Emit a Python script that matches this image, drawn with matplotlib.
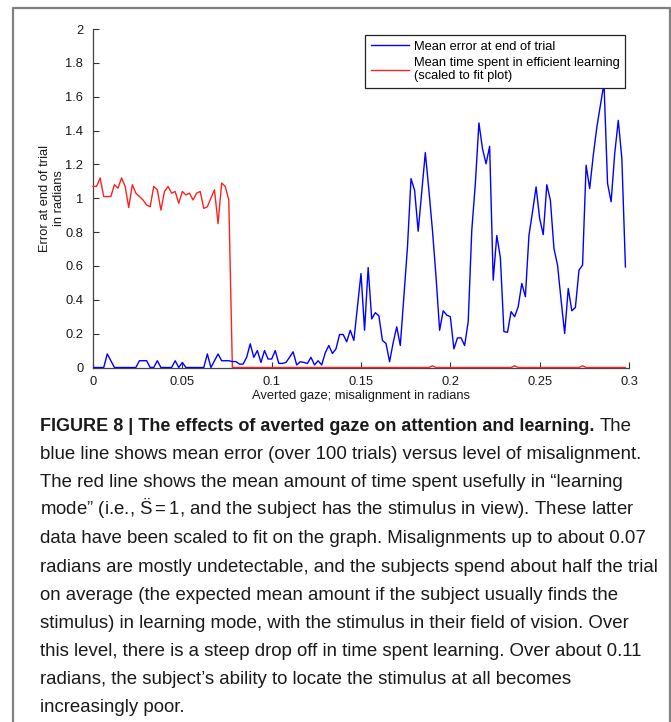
import numpy as np
import matplotlib
matplotlib.use('Agg')
import matplotlib.pyplot as plt
from matplotlib.lines import Line2D

plt.rcParams['font.family'] = ['Liberation Sans', 'DejaVu Sans']
plt.rcParams['mathtext.fontset'] = 'custom'
plt.rcParams['mathtext.rm'] = 'Liberation Sans'
plt.rcParams['mathtext.it'] = 'Liberation Sans'

# ---------------- data ----------------
x_step = 0.002
n_points = 150
misalignment = np.arange(n_points) * x_step

mean_error = [
    0, 0, 0, 0, 0.08, 0.04, 0, 0, 0, 0,
    0, 0, 0, 0.04, 0.04, 0.04, 0, 0, 0.04, 0,
    0, 0, 0, 0.04, 0, 0.03, 0, 0, 0, 0,
    0, 0, 0.08, 0, 0.04, 0.08, 0.04, 0.04, 0.04, 0.035,
    0.035, 0.02, 0.02, 0.06, 0.14, 0.06, 0.10, 0.03, 0.10, 0.05,
    0.05, 0.10, 0.024, 0.024, 0.03, 0.06, 0.093, 0.015, 0.034, 0.03,
    0.024, 0.06, 0.015, 0.04, 0.015, 0.087, 0.13, 0.083, 0.11, 0.195,
    0.195, 0.152, 0.22, 0.16, 0.36, 0.555, 0.22, 0.59, 0.287, 0.324,
    0.305, 0.16, 0.142, 0.034, 0.146, 0.24, 0.13, 0.418, 0.71, 1.116,
    1.047, 0.805, 1.037, 1.27, 1.047, 0.81, 0.535, 0.22, 0.335, 0.31,
    0.30, 0.11, 0.175, 0.175, 0.13, 0.27, 0.81, 1.087, 1.445, 1.293,
    1.204, 1.307, 0.516, 0.78, 0.65, 0.212, 0.208, 0.33, 0.30, 0.36,
    0.497, 0.418, 0.78, 0.92, 1.067, 0.88, 0.785, 1.08, 0.988, 0.703,
    0.605, 0.398, 0.201, 0.467, 0.335, 0.355, 0.575, 0.605, 1.195, 1.057,
    1.254, 1.42, 1.55, 1.68, 1.087, 0.979, 1.264, 1.46, 1.235, 0.594,
]

learning_time = [
    1.07, 1.07, 1.12, 1.01, 1.01, 1.01, 1.08, 1.06, 1.12, 1.07,
    0.945, 1.08, 1.03, 1.01, 0.99, 0.96, 0.95, 1.07, 1.05, 0.93,
    1.04, 1.07, 1.03, 1.04, 0.97, 1.04, 1.02, 1.03, 0.99, 1.03,
    1.04, 0.94, 0.95, 1.0, 1.05, 0.85, 1.09, 1.07, 0.99, 0,
    0, 0, 0, 0, 0, 0, 0, 0, 0, 0,
    0, 0, 0, 0, 0, 0, 0, 0, 0, 0,
    0, 0, 0, 0, 0, 0, 0, 0, 0, 0,
    0, 0, 0, 0, 0, 0, 0, 0, 0, 0,
    0, 0, 0, 0, 0, 0, 0, 0, 0, 0,
    0, 0, 0, 0, 0, 0.01, 0, 0, 0, 0,
    0, 0, 0, 0, 0, 0, 0, 0, 0, 0,
    0, 0, 0, 0, 0, 0, 0, 0, 0.01, 0,
    0, 0, 0, 0, 0, 0, 0, 0, 0, 0,
    0, 0, 0, 0, 0, 0, 0, 0.01, 0, 0,
    0, 0, 0, 0, 0, 0, 0, 0, 0, 0,
]

x_ticks = [0, 0.05, 0.1, 0.15, 0.2, 0.25, 0.3]
x_tick_labels = ['0', '0.05', '0.1', '0.15', '0.2', '0.25', '0.3']
y_ticks = [0, 0.2, 0.4, 0.6, 0.8, 1.0, 1.2, 1.4, 1.6, 1.8, 2.0]
y_tick_labels = ['0', '0.2', '0.4', '0.6', '0.8', '1', '1.2', '1.4', '1.6', '1.8', '2']

legend_labels = ['Mean error at end of trial',
                 'Mean time spent in efficient learning\n(scaled to fit plot)']
x_label = 'Averted gaze; misalignment in radians'
y_label = 'Error at end of trial\nin radians'

caption_bold = 'FIGURE 8 | The effects of averted gaze on attention and learning.'
caption_first_rest = 'The'
caption_lines = [
    'blue line shows mean error (over 100 trials) versus level of misalignment.',
    'The red line shows the mean amount of time spent usefully in \u201clearning',
    'mode\u201d (i.e., $\\ddot{S} = 1$, and the subject has the stimulus in view). These latter',
    'data have been scaled to fit on the graph. Misalignments up to about 0.07',
    'radians are mostly undetectable, and the subjects spend about half the trial',
    'on average (the expected mean amount if the subject usually finds the',
    'stimulus) in learning mode, with the stimulus in their field of vision. Over',
    'this level, there is a steep drop off in time spent learning. Over about 0.11',
    'radians, the subject\u2019s ability to locate the stimulus at all becomes',
    'increasingly poor.',
]

# ---------------- figure ----------------
W, H = 671, 722
fig = plt.figure(figsize=(W / 100, H / 100), dpi=100)
fig.patch.set_facecolor('white')

ax = fig.add_axes([93 / W, 1 - 367.5 / H, 536 / W, 338.5 / H])

l1, = ax.plot(misalignment, mean_error, color='#0000ff', lw=1.0, zorder=3)
l2, = ax.plot(misalignment, learning_time, color='#ff2020', lw=1.0, zorder=2.8,
              clip_on=False)

tfs = 9.3
ax.set_xlim(0, 0.3)
ax.set_ylim(0, 2)
ax.set_xticks(x_ticks)
ax.set_xticklabels(x_tick_labels)
ax.set_yticks(y_ticks)
ax.set_yticklabels(y_tick_labels)
ax.tick_params(direction='in', length=4, width=0.8, labelsize=tfs,
               color='#333333', labelcolor='#1a1a1a')
ax.tick_params(axis='y', pad=7)
ax.tick_params(axis='x', pad=6.2)
for s in ['top', 'right']:
    ax.spines[s].set_visible(False)
for s in ['left', 'bottom']:
    ax.spines[s].set_color('#444444')
    ax.spines[s].set_linewidth(0.9)

ax.set_xlabel(x_label, fontsize=tfs, color='#1a1a1a', labelpad=1.2)
ax.set_ylabel(y_label, fontsize=tfs, color='#1a1a1a', labelpad=0)

leg = ax.legend([l1, l2], legend_labels, loc='upper right',
                bbox_to_anchor=(0.9925, 0.982), borderaxespad=0,
                fontsize=tfs, fancybox=False, framealpha=1,
                edgecolor='#222222', handlelength=2.95, handletextpad=0.4,
                borderpad=0.42, labelspacing=0.32)
leg.get_frame().set_linewidth(0.9)

# frame around figure + caption
fig.add_artist(Line2D([13 / W, 13 / W, 669.5 / W, 669.5 / W],
                      [0, 1 - 8 / H, 1 - 8 / H, 0],
                      transform=fig.transFigure, color='#808080', lw=1.6))

fs = 13.4
fs_bold = 13.0
x0 = 40 / W
base0 = 425 + 6
t = fig.text(x0, 1 - base0 / H, caption_bold, fontsize=fs_bold, weight='bold',
             va='baseline', ha='left', color='#1a1a1a')
fig.canvas.draw()
bb = t.get_window_extent(renderer=fig.canvas.get_renderer())
fig.text((bb.x1 + 5) / W, 1 - base0 / H, caption_first_rest, fontsize=fs,
         va='baseline', ha='left', color='#1a1a1a')
for k, line in enumerate(caption_lines, start=1):
    fig.text(x0, 1 - (base0 + 28.1 * k) / H, line, fontsize=fs,
             va='baseline', ha='left', color='#1a1a1a')

fig.savefig('out.png', dpi=100, facecolor='white')
